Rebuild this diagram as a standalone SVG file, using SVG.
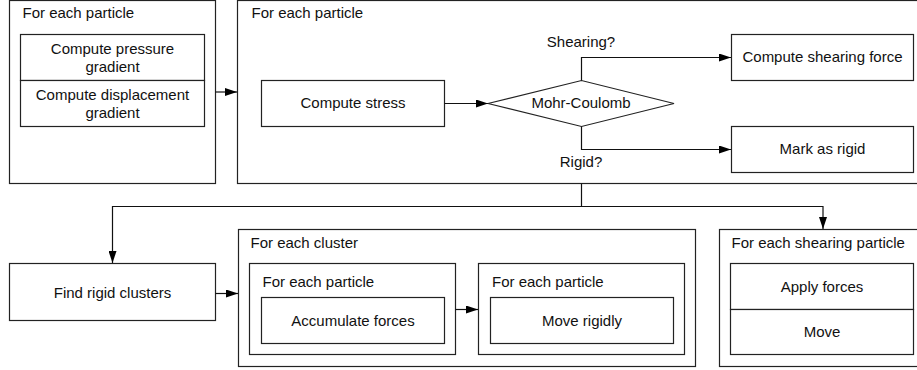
<svg xmlns="http://www.w3.org/2000/svg" width="917" height="370" viewBox="0 0 917 370">
  <style>
    rect, polygon { fill: #fff; stroke: #222; stroke-width: 1.2; }
    .conn path, .conn line { fill: none; stroke: #111; stroke-width: 1.2; }
    text { font-family: "Liberation Sans", Arial, Helvetica, sans-serif; font-size: 15px; fill: #111; }
    .c { text-anchor: middle; }
  </style>
  <defs>
    <marker id="arrow" markerWidth="12" markerHeight="8" refX="12" refY="4" orient="auto" markerUnits="userSpaceOnUse">
      <path d="M0,0 L12,4 L0,8 Z" fill="#000"/>
    </marker>
  </defs>

  <rect x="0" y="0" width="917" height="370" style="fill:#fff;stroke:none"/>

  <!-- Gradients loop -->
  <g id="gradients">
    <rect x="9.5" y="0.5" width="206" height="183"/>
    <text x="22.5" y="18">For each particle</text>
    <rect x="20.5" y="34.5" width="184" height="46"/>
    <text class="c" x="112.5" y="54">Compute pressure</text>
    <text class="c" x="112.5" y="72">gradient</text>
    <rect x="20.5" y="80.5" width="184" height="46"/>
    <text class="c" x="112.5" y="100">Compute displacement</text>
    <text class="c" x="112.5" y="118">gradient</text>
  </g>

  <!-- Stress / classification loop -->
  <g id="classify">
    <rect x="237.5" y="0.5" width="700" height="183"/>
    <text x="251.5" y="18">For each particle</text>
  </g>
  <g id="compute-stress">
    <rect x="261.5" y="80.5" width="183" height="46"/>
    <text class="c" x="353" y="108">Compute stress</text>
  </g>
  <g id="mohr-coulomb">
    <polygon points="488,103.5 581.5,80.5 674,103.5 581.5,126.5"/>
    <text class="c" x="581" y="108">Mohr-Coulomb</text>
  </g>
  <g id="shearing-force">
    <rect x="731.5" y="34.5" width="182" height="46"/>
    <text class="c" x="822.5" y="62">Compute shearing force</text>
  </g>
  <g id="mark-rigid">
    <rect x="731.5" y="126.5" width="182" height="46"/>
    <text class="c" x="822.5" y="154">Mark as rigid</text>
  </g>

  <!-- Rigid cluster handling -->
  <g id="find-clusters">
    <rect x="9.5" y="263.5" width="206" height="57"/>
    <text class="c" x="112.5" y="298">Find rigid clusters</text>
  </g>
  <g id="cluster-loop">
    <rect x="238.5" y="229.5" width="457" height="137"/>
    <text x="250.5" y="248">For each cluster</text>
  </g>
  <g id="accumulate">
    <rect x="249.5" y="263.5" width="206" height="91"/>
    <text x="262.5" y="287">For each particle</text>
    <rect x="261.5" y="297.5" width="183" height="46"/>
    <text class="c" x="353" y="326">Accumulate forces</text>
  </g>
  <g id="move-rigid">
    <rect x="478.5" y="263.5" width="206" height="91"/>
    <text x="492" y="287">For each particle</text>
    <rect x="490.5" y="297.5" width="183" height="46"/>
    <text class="c" x="582" y="326">Move rigidly</text>
  </g>

  <!-- Shearing particle handling -->
  <g id="shearing-loop">
    <rect x="719.5" y="229.5" width="210" height="137"/>
    <text x="731.5" y="248">For each shearing particle</text>
    <rect x="730.5" y="263.5" width="183" height="46"/>
    <text class="c" x="822" y="292">Apply forces</text>
    <rect x="730.5" y="309.5" width="183" height="45"/>
    <text class="c" x="822" y="337">Move</text>
  </g>

  <!-- Connectors -->
  <g class="conn">
    <line x1="215.5" y1="92" x2="237" y2="92" marker-end="url(#arrow)"/>
    <line x1="444.5" y1="103.5" x2="488" y2="103.5" marker-end="url(#arrow)"/>
    <path d="M581.5,80.5 V57.5 H731" marker-end="url(#arrow)"/>
    <path d="M581.5,126.5 V149.5 H731" marker-end="url(#arrow)"/>
    <path d="M581.5,183.5 V206.5 H112.5 V263" marker-end="url(#arrow)"/>
    <path d="M581.5,206.5 H823 V229" marker-end="url(#arrow)"/>
    <line x1="215.5" y1="293.5" x2="238" y2="293.5" marker-end="url(#arrow)"/>
    <line x1="455.5" y1="309.5" x2="478" y2="309.5" marker-end="url(#arrow)"/>
  </g>
  <g id="labels">
    <text class="c" x="581" y="47">Shearing?</text>
    <text class="c" x="581" y="167">Rigid?</text>
  </g>
</svg>
